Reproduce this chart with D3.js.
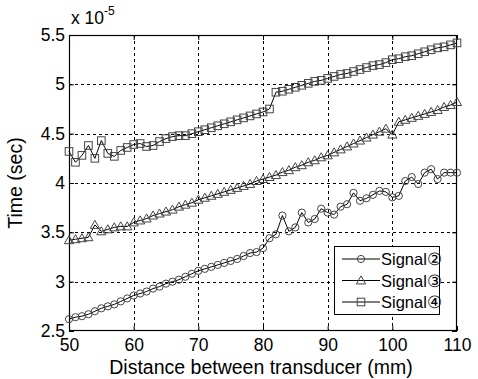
<!DOCTYPE html>
<html>
<head>
<meta charset="utf-8">
<script src="https://cdn.jsdelivr.net/npm/d3@7"></script>
<style>
  html, body { margin: 0; padding: 0; background: #fff; }
  svg { display: block; font-family: "Liberation Sans", Arial, sans-serif; }
</style>
</head>
<body>
<svg id="chart" width="478" height="379"></svg>
<script>
// Distance between transducers (mm)
const distance = d3.range(50, 111, 1);

// Arrival time, in units of 1e-5 s
const signal2 = [
  2.62, 2.64, 2.65, 2.67, 2.70, 2.73, 2.75, 2.77, 2.80, 2.83,
  2.86, 2.88, 2.90, 2.93, 2.95, 2.98, 3.00, 3.02, 3.05, 3.08,
  3.11, 3.13, 3.15, 3.17, 3.19, 3.21, 3.23, 3.26, 3.29, 3.30,
  3.34, 3.44, 3.48, 3.67, 3.51, 3.55, 3.70, 3.60, 3.635, 3.74,
  3.70, 3.68, 3.76, 3.785, 3.90, 3.82, 3.845, 3.88, 3.92, 3.91,
  3.855, 3.87, 4.02, 4.06, 3.99, 4.105, 4.14, 4.04, 4.105, 4.105,
  4.105
];
const signal3 = [
  3.42, 3.43, 3.44, 3.45, 3.575, 3.51, 3.53, 3.55, 3.56, 3.56,
  3.60, 3.62, 3.64, 3.67, 3.69, 3.71, 3.73, 3.76, 3.78, 3.80,
  3.83, 3.85, 3.87, 3.89, 3.91, 3.93, 3.95, 3.97, 3.99, 4.02,
  4.04, 4.06, 4.08, 4.11, 4.13, 4.16, 4.18, 4.21, 4.23, 4.26,
  4.28, 4.31, 4.34, 4.37, 4.40, 4.43, 4.46, 4.49, 4.52, 4.55,
  4.49, 4.62, 4.64, 4.66, 4.68, 4.70, 4.72, 4.74, 4.77, 4.79,
  4.82
];
const signal4 = [
  4.32, 4.21, 4.28, 4.38, 4.25, 4.43, 4.30, 4.27, 4.33, 4.36,
  4.39, 4.40, 4.37, 4.38, 4.42, 4.45, 4.47, 4.48, 4.48, 4.50,
  4.52, 4.54, 4.56, 4.58, 4.60, 4.62, 4.64, 4.66, 4.68, 4.70,
  4.72, 4.75, 4.92, 4.93, 4.95, 4.97, 4.99, 5.01, 5.03, 5.04,
  5.06, 5.08, 5.10, 5.11, 5.13, 5.15, 5.17, 5.19, 5.20, 5.22,
  5.25, 5.26, 5.28, 5.29, 5.31, 5.33, 5.35, 5.37, 5.38, 5.40,
  5.42
];

const xTicks = [50, 60, 70, 80, 90, 100, 110];
const yTicks = [2.5, 3, 3.5, 4, 4.5, 5, 5.5];
const seriesNames = ["Signal\u2461", "Signal\u2462", "Signal\u2463"];
const seriesMarkers = ["circle", "triangle", "square"];

const svg = d3.select("#chart");
const plotLeft = 69, plotRight = 457, plotTop = 35, plotBottom = 331;

const x = d3.scaleLinear().domain([50, 110]).range([plotLeft, plotRight]);
const y = d3.scaleLinear().domain([2.5, 5.5]).range([plotBottom, plotTop]);

// Dotted grid
const grid = svg.append("g").attr("stroke", "#000").attr("stroke-width", 1)
  .attr("stroke-dasharray", "3,3");
xTicks.slice(1, -1).forEach(t => {
  grid.append("line").attr("x1", Math.round(x(t)) + 0.5).attr("x2", Math.round(x(t)) + 0.5)
    .attr("y1", plotTop).attr("y2", plotBottom);
});
yTicks.slice(1, -1).forEach(t => {
  grid.append("line").attr("y1", Math.round(y(t)) + 0.5).attr("y2", Math.round(y(t)) + 0.5)
    .attr("x1", plotLeft).attr("x2", plotRight);
});

// Axes with inward ticks
const fontSize = 17.5;
const xAxis = d3.axisBottom(x).tickValues(xTicks).tickSize(-5).tickPadding(8).tickFormat(d3.format("d"));
const yAxis = d3.axisLeft(y).tickValues(yTicks).tickSize(-5).tickPadding(4).tickFormat(d => String(d));
const gx = svg.append("g").attr("transform", `translate(0,${plotBottom})`).call(xAxis);
const gy = svg.append("g").attr("transform", `translate(${plotLeft},0)`).call(yAxis);
[gx, gy].forEach(g => {
  g.select(".domain").remove();
  g.selectAll("text").attr("font-size", fontSize).attr("fill", "#000")
    .attr("font-family", "'Liberation Sans', Arial, sans-serif");
  g.selectAll("line").attr("stroke", "#000");
});
// top and right ticks
svg.append("g").attr("transform", `translate(0,${plotTop})`)
  .call(d3.axisTop(x).tickValues(xTicks).tickSize(-5).tickFormat(""))
  .call(g => g.select(".domain").remove());
svg.append("g").attr("transform", `translate(${plotRight},0)`)
  .call(d3.axisRight(y).tickValues(yTicks).tickSize(-5).tickFormat(""))
  .call(g => g.select(".domain").remove());

// Box
svg.append("rect").attr("x", plotLeft + 0.5).attr("y", plotTop + 0.5)
  .attr("width", plotRight - plotLeft - 1).attr("height", plotBottom - plotTop - 1)
  .attr("fill", "none").attr("stroke", "#000").attr("stroke-width", 1.2);

// Exponent label
const expo = svg.append("text").attr("x", 71).attr("y", 24).attr("font-size", 17.5).attr("fill", "#000");
expo.append("tspan").text("x 10");
expo.append("tspan").attr("dy", -9).attr("font-size", 12).text("-5");

// Axis titles
svg.append("text").attr("x", (plotLeft + plotRight) / 2 - 2).attr("y", 374).attr("text-anchor", "middle")
  .attr("font-size", 19.5).attr("fill", "#000").text("Distance between transducer (mm)");
svg.append("text").attr("transform", `translate(22,${(plotTop + plotBottom) / 2}) rotate(-90)`)
  .attr("text-anchor", "middle").attr("font-size", 19.5).attr("fill", "#000").text("Time (sec)");

// Marker drawing
function drawMarker(g, type, cx, cy) {
  if (type === "circle") {
    g.append("circle").attr("cx", cx).attr("cy", cy).attr("r", 3.6);
  } else if (type === "square") {
    g.append("rect").attr("x", cx - 3.8).attr("y", cy - 3.8).attr("width", 7.6).attr("height", 7.6);
  } else {
    const s = 4.6;
    g.append("path").attr("d", `M${cx},${cy - s} L${cx + s},${cy + s * 0.75} L${cx - s},${cy + s * 0.75} Z`);
  }
}

const plot = svg.append("g");
const line = d3.line().x((d, i) => x(distance[i])).y(d => y(d));
[signal2, signal3, signal4].forEach((vals, k) => {
  plot.append("path").datum(vals).attr("d", line)
    .attr("fill", "none").attr("stroke", "#000").attr("stroke-width", 1);
  const mg = plot.append("g").attr("fill", "none").attr("stroke", "#444").attr("stroke-width", 1);
  vals.forEach((v, i) => drawMarker(mg, seriesMarkers[k], x(distance[i]), y(v)));
});

// Legend
const lg = svg.append("g");
lg.append("rect").attr("x", 334.5).attr("y", 246.5).attr("width", 105).attr("height", 68)
  .attr("fill", "#fff").attr("stroke", "#000").attr("stroke-width", 1);
seriesNames.forEach((name, k) => {
  const ly = 259 + k * 21.5;
  lg.append("line").attr("x1", 342).attr("x2", 380).attr("y1", ly).attr("y2", ly)
    .attr("stroke", "#000").attr("stroke-width", 1);
  const mg = lg.append("g").attr("fill", "none").attr("stroke", "#444").attr("stroke-width", 1);
  drawMarker(mg, seriesMarkers[k], 361, ly);
  lg.append("text").attr("x", 381).attr("y", ly + 6).attr("font-size", 16.5).attr("fill", "#000").text(name);
});
</script>
</body>
</html>
